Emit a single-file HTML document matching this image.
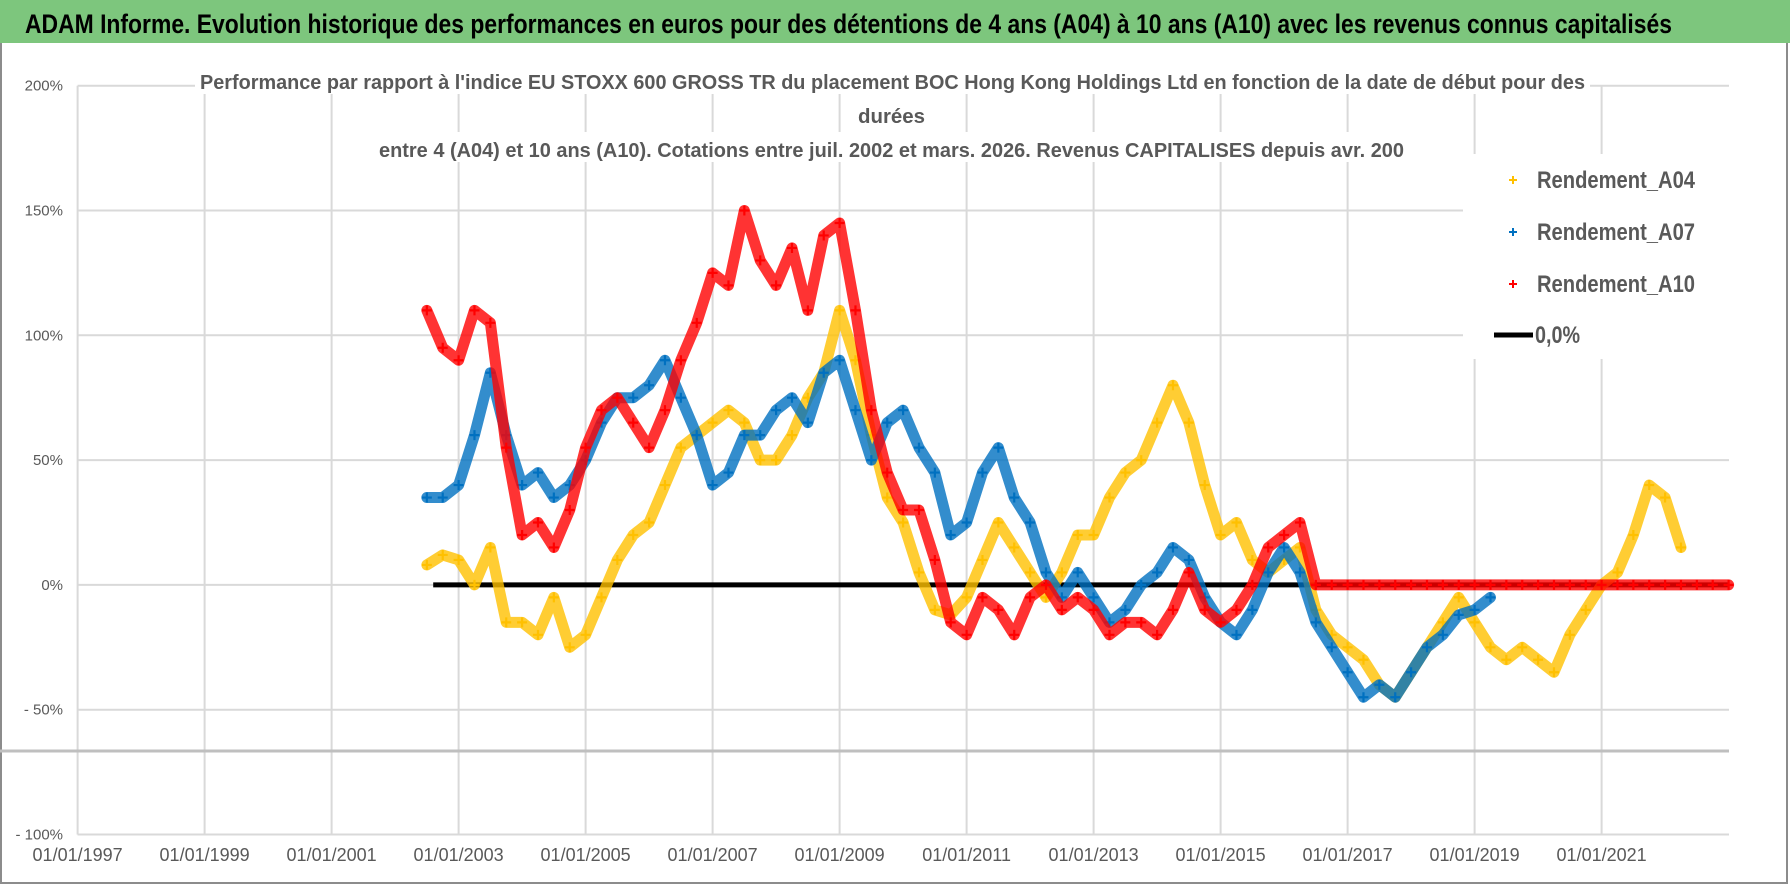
<!DOCTYPE html>
<html><head><meta charset="utf-8"><style>
html,body{margin:0;padding:0;background:#fff;}
svg{display:block;}
text{font-family:"Liberation Sans Narrow","Liberation Sans",sans-serif;}
</style></head><body>
<svg id="chart" width="1790" height="886" viewBox="0 0 1790 886" xmlns="http://www.w3.org/2000/svg">
<rect x="0" y="0" width="1790" height="886" fill="#fff"/>
<rect x="1" y="1" width="1786" height="882" fill="none" stroke="#8c8c8c" stroke-width="2"/>
<rect x="0" y="0" width="1790" height="43" fill="#7dc67d"/>
<text x="25" y="33" font-size="27" font-weight="bold" fill="#000" textLength="1647" lengthAdjust="spacingAndGlyphs">ADAM Informe. Evolution historique des performances en euros pour des détentions de 4 ans (A04) à 10 ans (A10) avec les revenus connus capitalisés</text>
<g id="grid"></g>
<g id="axes"></g>
<g id="series"></g>
<g>
<rect x="195" y="64" width="1395" height="30" fill="#fff"/>
<rect x="370" y="132" width="1040" height="30" fill="#fff"/>
<text x="200" y="89" font-size="20" font-weight="bold" fill="#595959" textLength="1385" lengthAdjust="spacingAndGlyphs">Performance par rapport à l'indice EU STOXX 600 GROSS TR  du placement BOC Hong Kong Holdings Ltd en fonction de la date de début pour des</text>
<text x="858" y="123" font-size="20" font-weight="bold" fill="#595959" textLength="67" lengthAdjust="spacingAndGlyphs">durées</text>
<text x="379" y="157" font-size="20" font-weight="bold" fill="#595959" textLength="1025" lengthAdjust="spacingAndGlyphs">entre 4 (A04) et 10 ans (A10). Cotations entre juil. 2002 et mars. 2026. Revenus CAPITALISES depuis avr. 200</text>
</g>
<g>
<rect x="1463" y="154" width="266" height="205" fill="#fff"/>
<g><path d="M1509 180h8M1513 176v8" stroke="#ffc000" stroke-width="2"/><text x="1537" y="188" font-size="24" font-weight="bold" fill="#595959" textLength="158" lengthAdjust="spacingAndGlyphs">Rendement_A04</text></g>
<g><path d="M1509 232h8M1513 228v8" stroke="#0070c0" stroke-width="2"/><text x="1537" y="240" font-size="24" font-weight="bold" fill="#595959" textLength="158" lengthAdjust="spacingAndGlyphs">Rendement_A07</text></g>
<g><path d="M1509 284h8M1513 280v8" stroke="#ff0000" stroke-width="2"/><text x="1537" y="292" font-size="24" font-weight="bold" fill="#595959" textLength="158" lengthAdjust="spacingAndGlyphs">Rendement_A10</text></g>
<g><path d="M1494 335h39" stroke="#000" stroke-width="5"/><text x="1535" y="343" font-size="24" font-weight="bold" fill="#595959" textLength="45" lengthAdjust="spacingAndGlyphs">0,0%</text></g>
</g>
</svg>
<script>
const yTicks = [200,150,100,50,0,-50,-100];
const yTickLabels = ["200%","150%","100%","50%","0%","- 50%","- 100%"];
const xTicks = [1997,1999,2001,2003,2005,2007,2009,2011,2013,2015,2017,2019,2021];
const xTickLabels = ["01/01/1997","01/01/1999","01/01/2001","01/01/2003","01/01/2005","01/01/2007","01/01/2009","01/01/2011","01/01/2013","01/01/2015","01/01/2017","01/01/2019","01/01/2021"];
const a04Start = 2002.5;
const a04 = [8,12,10,0,15,-15,-15,-20,-5,-25,-20,-5,10,20,25,40,55,60,65,70,65,50,50,60,75,85,110,90,60,35,25,5,-10,-12,-5,10,25,15,5,-5,5,20,20,35,45,50,65,80,65,40,20,25,10,5,10,15,-10,-20,-25,-30,-40,-45,-35,-25,-15,-5,-15,-25,-30,-25,-30,-35,-20,-10,0,5,20,40,35,15];
const a07Start = 2002.5;
const a07 = [35,35,40,60,85,60,40,45,35,40,50,65,75,75,80,90,75,60,40,45,60,60,70,75,65,85,90,70,50,65,70,55,45,20,25,45,55,35,25,5,-5,5,-5,-15,-10,0,5,15,10,-5,-15,-20,-10,5,15,5,-15,-25,-35,-45,-40,-45,-35,-25,-20,-12,-10,-5];
const a10Start = 2002.5;
const a10 = [110,95,90,110,105,55,20,25,15,30,55,70,75,65,55,70,90,105,125,120,150,130,120,135,110,140,145,110,70,45,30,30,10,-15,-20,-5,-10,-20,-5,0,-10,-5,-10,-20,-15,-15,-20,-10,5,-10,-15,-10,0,15,20,25,0,0,0,0,0,0,0,0,0,0,0,0,0,0,0,0,0,0,0,0,0,0,0,0,0,0,0];
const zeroLine = {start:2002.6, end:2023.0, value:0};
const step = 0.25;

const NS="http://www.w3.org/2000/svg";
const X0=77.6, PX=63.5, XR=1729;
function xs(d){return X0+(d-1997)*PX;}
function ys(v){return 834.5-(v+100)*2.496;}
function mk(tag,attrs,parent){const e=document.createElementNS(NS,tag);for(const k in attrs)e.setAttribute(k,attrs[k]);parent.appendChild(e);return e;}
const grid=document.getElementById('grid'), axes=document.getElementById('axes'), series=document.getElementById('series');
yTicks.forEach((t,i)=>{
  const l=mk('line',{x1:X0,x2:XR,y1:ys(t),y2:ys(t),stroke:'#d9d9d9','stroke-width':2},grid);
  
  
  const tx=mk('text',{x:63,y:ys(t)+5,'text-anchor':'end','font-size':15,fill:'#595959'},axes);
  tx.textContent=yTickLabels[i];
  
  
});
xTicks.forEach((t,i)=>{
  const l=mk('line',{x1:xs(t),x2:xs(t),y1:ys(200),y2:ys(-100),stroke:'#d9d9d9','stroke-width':2},grid);
  
  
  const tx=mk('text',{x:xs(t),y:861,'text-anchor':'middle','font-size':18,fill:'#595959'},axes);
  tx.textContent=xTickLabels[i];
  
  
});
const hl=mk('line',{x1:0,x2:XR,y1:751,y2:751,stroke:'#bfbfbf','stroke-width':3},grid);


const bl=mk('line',{x1:X0,x2:XR,y1:ys(-100),y2:ys(-100),stroke:'#d9d9d9','stroke-width':2},grid);



const zl=mk('line',{x1:xs(zeroLine.start),x2:xs(zeroLine.end),y1:ys(zeroLine.value),y2:ys(zeroLine.value),stroke:'#000','stroke-width':5},series);



function drawSeries(vals,start,color,name){
  const g=mk('g',{},series);
  
  
  const pts=vals.map((v,i)=>[xs(start+i*step),ys(v)]);
  mk('polyline',{points:pts.map(p=>p.join(',')).join(' '),fill:'none',stroke:color,'stroke-width':11,'stroke-linejoin':'round','stroke-linecap':'round',opacity:0.8},g);
  let d='';
  pts.forEach(p=>{d+=`M${p[0]-5},${p[1]}h10M${p[0]},${p[1]-5}v10`;});
  mk('path',{d:d,stroke:color,'stroke-width':2.2},g);
}
drawSeries(a04,a04Start,'#ffc000','series-a04');
drawSeries(a07,a07Start,'#0070c0','series-a07');
drawSeries(a10,a10Start,'#ff0000','series-a10');
</script>
</body></html>
